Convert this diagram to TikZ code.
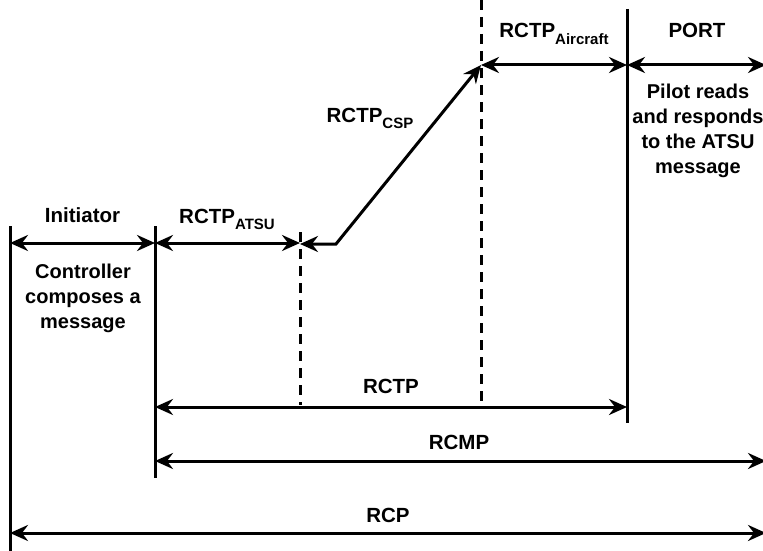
\documentclass[tikz,border=0pt]{standalone}
\usepackage{fontspec}
\setmainfont{Liberation Sans}
\usetikzlibrary{arrows.meta}
\newcommand\lowsub[1]{\raisebox{-6pt}{\fontsize{15}{15}\selectfont #1}}
\begin{document}
\begin{tikzpicture}[x=1pt,y=-1pt,
  tip/.tip={Stealth[length=18pt,width=16pt,inset=6pt]},
  span/.style={line width=3pt,{tip}-{tip}},
  bar/.style={line width=3pt},
  dashbar/.style={line width=3pt,dash pattern=on 10pt off 7pt},
  lbl/.style={font=\bfseries\fontsize{20.5}{24}\selectfont,inner sep=0pt,anchor=base},
  note/.style={font=\bfseries\fontsize{20}{25}\selectfont,inner sep=0pt,align=center,anchor=base}]
\useasboundingbox (0,0) rectangle (763,551);

% phase boundaries
\coordinate (a0) at (10,226);   \coordinate (a1) at (10,551);
\coordinate (b0) at (155,226);  \coordinate (b1) at (155,478);
\coordinate (c0) at (300,232);  \coordinate (c1) at (300,405);
\coordinate (d0) at (481,0);    \coordinate (d1) at (481,405);
\coordinate (e0) at (627,9);    \coordinate (e1) at (627,423);
\draw[bar] (a0) -- (a1);
\draw[bar] (b0) -- (b1);
\draw[bar] (e0) -- (e1);
\draw[dashbar] (c0) -- (c1);
\draw[dashbar] (d0) -- (d1);

% time spans
\coordinate (i0) at (10,243);   \coordinate (i1) at (155,243);
\coordinate (t1) at (300,243);
\coordinate (k0) at (300,244);  \coordinate (k1) at (336,244);
\coordinate (k2) at (481,65);
\coordinate (f1) at (627,65);   \coordinate (p1) at (766,65);
\coordinate (r0) at (155,407);  \coordinate (r1) at (627,407);
\coordinate (m0) at (155,461);  \coordinate (m1) at (766,461);
\coordinate (q0) at (10,533);   \coordinate (q1) at (766,533);

\draw[span] (i0) -- (i1);
\draw[span] (i1) -- (t1);
\draw[span] (k0) -- (k1) -- (k2);
\draw[span] (k2) -- (f1);
\draw[span] (f1) -- (p1);
\draw[span] (r0) -- (r1);
\draw[span] (m0) -- (m1);
\draw[span] (q0) -- (q1);

% labels
\node[lbl] (init) at (82.5,222) {Initiator};
\node[lbl] (atsu) at (227,223) {RCTP\lowsub{ATSU}};
\node[lbl] (csp)  at (370,122) {RCTP\lowsub{CSP}};
\node[lbl] (acft) at (554,38)  {RCTP\lowsub{Aircraft}};
\node[lbl] (port) at (697,38)  {PORT};
\node[lbl] (rctp) at (391,393) {RCTP};
\node[lbl] (rcmp) at (459,449) {RCMP};
\node[lbl] (rcp)  at (388,522) {RCP};

% descriptions (anchored at the baseline of their last line)
\node[note] (ctrl)  at (83,328) {Controller\\composes a\\message};
\node[note] (pilot) at (698,173) {Pilot reads\\and responds\\to the ATSU\\message};
\end{tikzpicture}
\end{document}
